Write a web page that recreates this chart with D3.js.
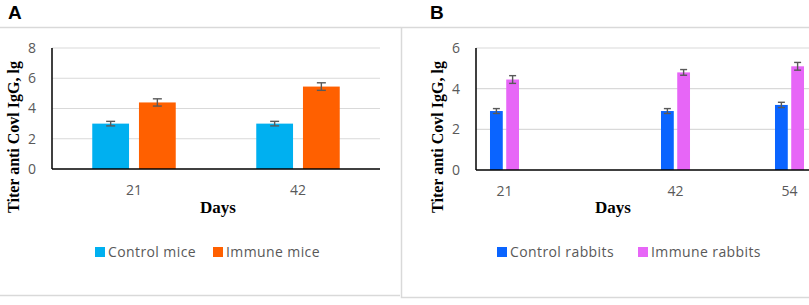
<!DOCTYPE html>
<html>
<head>
  <title>Titer anti Covl IgG</title>
  <script src="https://d3js.org/d3.v7.min.js"></script>
  <style>
    body { margin: 0; padding: 0; background: #ffffff; }

    .tick text {
      font-family: "Open Sans", "Noto Sans", sans-serif;
      font-size: 14px;
      fill: #595959;
    }

    .axisLabel {
      font-family: "Liberation Serif", "Times New Roman", serif;
      font-weight: bold;
      fill: #000000;
    }

    .legendText {
      font-family: "Open Sans", "Noto Sans", sans-serif;
      font-size: 14px;
      letter-spacing: 0.4px;
      fill: #595959;
    }

    .panelLabel {
      font-family: "Liberation Sans", Arial, sans-serif;
      font-size: 19px;
      font-weight: bold;
    }
  </style>
</head>
<body>
  <div id="chart"></div>
  <script>

    /* DATA */

    // panel A: mice
    let miceDays = ["21", "42"];
    let miceControl = [3.0, 3.0];
    let miceControlErr = [0.15, 0.15];
    let miceImmune = [4.4, 5.45];
    let miceImmuneErr = [0.24, 0.25];
    let miceTicks = [0, 2, 4, 6, 8];

    // panel B: rabbits (the category axis has empty slots between the days)
    let rabbitSlots = ["21", "s2", "s3", "42", "s5", "54"];
    let rabbitDays = ["21", "42", "54"];
    let rabbitControl = [2.9, 2.9, 3.2];
    let rabbitControlErr = [0.12, 0.12, 0.13];
    let rabbitImmune = [4.45, 4.8, 5.1];
    let rabbitImmuneErr = [0.19, 0.14, 0.19];
    let rabbitTicks = [0, 2, 4, 6];

    let seriesKeys = ["control", "immune"];

    /* CANVAS */

    let width = 809;
    let height = 305;

    let svg = d3.select("#chart")
      .append("svg")
      .attr("width", width)
      .attr("height", height);

    // panel frames
    svg.append("line")
      .attr("x1", 0).attr("x2", 401).attr("y1", 27.5).attr("y2", 27.5)
      .attr("stroke", "#d9d9d9").attr("stroke-width", 1.5);
    svg.append("line")
      .attr("x1", 0).attr("x2", 400).attr("y1", 295.5).attr("y2", 295.5)
      .attr("stroke", "#d9d9d9").attr("stroke-width", 1.5);
    svg.append("rect")
      .attr("x", 401.5).attr("y", 27.5)
      .attr("width", 420).attr("height", 270)
      .attr("fill", "none")
      .attr("stroke", "#d9d9d9").attr("stroke-width", 1.5);

    /*
    DRAW ONE PANEL
    */
    function drawPanel(p) {
      let g = svg.append("g");

      p.xScale = d3.scaleBand()
        .domain(p.slots)
        .range([p.left, p.left + p.step * p.slots.length]);

      // same bar width / gap ratios in both panels
      p.inner = d3.scaleBand()
        .domain(seriesKeys)
        .range([0, p.xScale.bandwidth()])
        .paddingInner(0.2126)
        .paddingOuter(0.862);

      p.yScale = d3.scaleLinear()
        .domain([0, p.ticks[p.ticks.length - 1]])
        .range([p.bottom, p.top]);

      // gridlines
      g.selectAll(".grid")
        .data(p.ticks.slice(1))
        .enter()
        .append("line")
          .attr("x1", p.left)
          .attr("x2", p.xScale.range()[1])
          .attr("y1", function(d) { return p.yScale(d); })
          .attr("y2", function(d) { return p.yScale(d); })
          .attr("stroke", "#d9d9d9")
          .attr("stroke-width", 1.2);

      // y axis tick labels
      let yAxis = g.append("g")
        .attr("transform", `translate(${p.left},0)`)
        .call(d3.axisLeft(p.yScale).tickValues(p.ticks).tickFormat(d3.format("d"))
          .tickSize(0).tickPadding(16));
      yAxis.select(".domain").remove();

      // x axis tick labels
      let xAxis = g.append("g")
        .attr("transform", `translate(0,${p.bottom})`)
        .call(d3.axisBottom(p.xScale).tickValues(p.days).tickSize(0).tickPadding(16));
      xAxis.select(".domain").remove();

      // bars
      let rows = [];
      p.days.forEach(function(day, i) {
        rows.push({day: day, key: "control", value: p.control[i], err: p.controlErr[i]});
        rows.push({day: day, key: "immune", value: p.immune[i], err: p.immuneErr[i]});
      });

      g.selectAll(".bar")
        .data(rows)
        .enter()
        .append("rect")
          .attr("x", function(d) { return p.xScale(d.day) + p.inner(d.key); })
          .attr("y", function(d) { return p.yScale(d.value); })
          .attr("width", p.inner.bandwidth())
          .attr("height", function(d) { return p.yScale(0) - p.yScale(d.value); })
          .attr("fill", function(d) { return p.colors[d.key]; });

      // error bars
      let eb = g.selectAll(".err")
        .data(rows)
        .enter()
        .append("g")
          .attr("stroke", "#595959")
          .attr("stroke-width", 1.4);

      function cx(d) { return p.xScale(d.day) + p.inner(d.key) + p.inner.bandwidth() / 2; }

      eb.append("line")
        .attr("x1", cx).attr("x2", cx)
        .attr("y1", function(d) { return p.yScale(d.value + d.err); })
        .attr("y2", function(d) { return p.yScale(d.value - d.err); });
      eb.append("line")
        .attr("x1", function(d) { return cx(d) - p.cap; })
        .attr("x2", function(d) { return cx(d) + p.cap; })
        .attr("y1", function(d) { return p.yScale(d.value + d.err); })
        .attr("y2", function(d) { return p.yScale(d.value + d.err); });
      eb.append("line")
        .attr("x1", function(d) { return cx(d) - p.cap; })
        .attr("x2", function(d) { return cx(d) + p.cap; })
        .attr("y1", function(d) { return p.yScale(d.value - d.err); })
        .attr("y2", function(d) { return p.yScale(d.value - d.err); });

      // axis lines
      g.append("line")
        .attr("x1", p.left).attr("x2", p.left)
        .attr("y1", p.top).attr("y2", p.bottom)
        .attr("stroke", "#000").attr("stroke-width", 1.5);
      g.append("line")
        .attr("x1", p.left).attr("x2", p.xScale.range()[1])
        .attr("y1", p.bottom).attr("y2", p.bottom)
        .attr("stroke", "#000").attr("stroke-width", 1.5);

      // axis titles
      g.append("text")
        .attr("class", "axisLabel")
        .attr("transform", `translate(${p.titleX},137) rotate(-90)`)
        .attr("text-anchor", "middle")
        .style("font-size", "16px")
        .text("Titer anti Covl  IgG, lg");

      g.append("text")
        .attr("class", "axisLabel")
        .attr("x", p.daysX)
        .attr("y", 213)
        .attr("text-anchor", "middle")
        .style("font-size", "17px")
        .text("Days");

      // legend
      p.legend.forEach(function(item) {
        g.append("rect")
          .attr("x", item.x).attr("y", 247)
          .attr("width", 10).attr("height", 10)
          .attr("fill", p.colors[item.key]);
        g.append("text")
          .attr("class", "legendText")
          .attr("x", item.x + 13)
          .attr("y", 257)
          .text(item.label);
      });

      // panel letter
      g.append("text")
        .attr("class", "panelLabel")
        .attr("x", p.letterX)
        .attr("y", 18.5)
        .text(p.letter);
    }

    let panelA = {
      letter: "A", letterX: 8,
      slots: miceDays, days: miceDays,
      control: miceControl, controlErr: miceControlErr,
      immune: miceImmune, immuneErr: miceImmuneErr,
      ticks: miceTicks,
      left: 52, step: 164, top: 48, bottom: 169,
      cap: 4.5, titleX: 19, daysX: 218,
      colors: {control: "#00b0f0", immune: "#ff6000"},
      legend: [
        {key: "control", x: 95, label: "Control mice"},
        {key: "immune", x: 213, label: "Immune mice"}
      ]
    };

    let panelB = {
      letter: "B", letterX: 430,
      slots: rabbitSlots, days: rabbitDays,
      control: rabbitControl, controlErr: rabbitControlErr,
      immune: rabbitImmune, immuneErr: rabbitImmuneErr,
      ticks: rabbitTicks,
      left: 476, step: 57, top: 48, bottom: 170,
      cap: 3.5, titleX: 443, daysX: 613,
      colors: {control: "#0a64ff", immune: "#e766f7"},
      legend: [
        {key: "control", x: 497, label: "Control rabbits"},
        {key: "immune", x: 638, label: "Immune rabbits"}
      ]
    };

    drawPanel(panelA);
    drawPanel(panelB);

  </script>
</body>
</html>
